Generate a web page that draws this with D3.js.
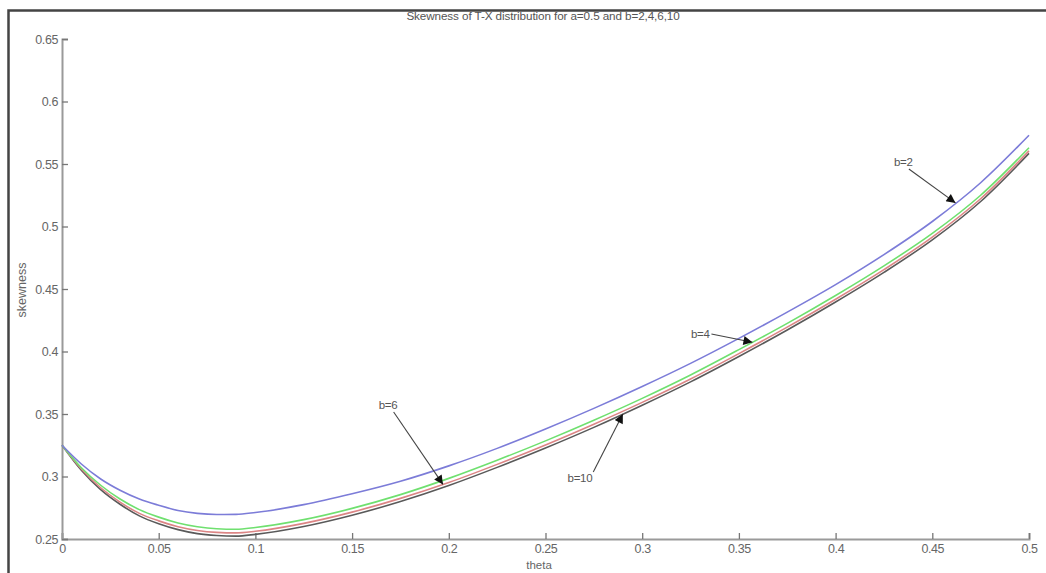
<!DOCTYPE html>
<html>
<head>
<meta charset="utf-8">
<title>Skewness of T-X distribution</title>
<script src="https://cdn.jsdelivr.net/npm/d3@7/dist/d3.min.js"></script>
<style>
    html, body { margin: 0; background: #fff; overflow: hidden; }
    svg { display: block; }
    text { font-family: "Liberation Sans", Arial, sans-serif; }
</style>
</head>
<body>
<script>
    // theta grid
    var theta = [0, 0.01, 0.02, 0.03, 0.04, 0.05, 0.06, 0.07, 0.08, 0.09, 0.1,
                 0.125, 0.15, 0.175, 0.2, 0.225, 0.25, 0.275, 0.3, 0.325, 0.35,
                 0.375, 0.4, 0.425, 0.45, 0.475, 0.5];

    // skewness
    var b2  = [0.325, 0.310, 0.298, 0.289, 0.282, 0.277, 0.2728, 0.2705, 0.2696, 0.2697, 0.2712,
               0.2775, 0.2862, 0.2962, 0.3085, 0.3225, 0.3380, 0.3545, 0.3720, 0.3905, 0.4105,
               0.4315, 0.4535, 0.4775, 0.5040, 0.5350, 0.5730];
    var b4  = [0.325, 0.307, 0.293, 0.282, 0.2735, 0.2675, 0.2628, 0.2598, 0.2582, 0.2578, 0.2592,
               0.2655, 0.2745, 0.2855, 0.2985, 0.3130, 0.3285, 0.3450, 0.3625, 0.3812, 0.4015,
               0.4225, 0.4448, 0.4685, 0.4945, 0.5250, 0.5630];
    var b6  = [0.325, 0.306, 0.291, 0.2795, 0.2705, 0.2645, 0.2598, 0.2568, 0.2553, 0.2549, 0.2562,
               0.2625, 0.2715, 0.2825, 0.2952, 0.3097, 0.3252, 0.3418, 0.3593, 0.3780, 0.3983,
               0.4195, 0.4418, 0.4655, 0.4915, 0.5222, 0.5605];
    var b10 = [0.325, 0.305, 0.2895, 0.2778, 0.2685, 0.2622, 0.2575, 0.2543, 0.2528, 0.2523, 0.2537,
               0.2600, 0.2690, 0.2800, 0.2928, 0.3073, 0.3228, 0.3393, 0.3570, 0.3757, 0.3960,
               0.4172, 0.4396, 0.4633, 0.4893, 0.5200, 0.5585];

    var seriesNames  = ["b=2", "b=4", "b=6", "b=10"];
    var seriesValues = [b2, b4, b6, b10];
    var colors = ["#7c7cd8", "#6fe06f", "#dc8585", "#5a5a5a"];

    var xTicks = [0, 0.05, 0.1, 0.15, 0.2, 0.25, 0.3, 0.35, 0.4, 0.45, 0.5];
    var yTicks = [0.25, 0.3, 0.35, 0.4, 0.45, 0.5, 0.55, 0.6, 0.65];

    // annotation: label, label pos (theta, skew), arrow tip series index & theta
    var notes = [
        { label: "b=2",  tx: 0.435,  ty: 0.5516, at: 0.462, s: 0 },
        { label: "b=4",  tx: 0.330,  ty: 0.4140, at: 0.357, s: 1 },
        { label: "b=6",  tx: 0.1686, ty: 0.3572, at: 0.197, s: 2 },
        { label: "b=10", tx: 0.2678, ty: 0.2988, at: 0.290, s: 3 }
    ];

    var W = 1046, H = 573;
    var margin = { top: 39, right: 17, bottom: 33, left: 62 };

    var svg = d3.select("body")
                .append("svg")
                .attr("width", W)
                .attr("height", H);

    // outer frame (top + left edge of screenshot)
    svg.append("path")
        .attr("d", "M8.5," + H + "V10.5H" + W)
        .attr("fill", "none")
        .attr("stroke", "#444")
        .attr("stroke-width", 2.5);

    var x = d3.scaleLinear()
        .domain([0, 0.5])
        .range([margin.left, W - margin.right]);

    var y = d3.scaleLinear()
        .domain([0.25, 0.65])
        .range([H - margin.bottom - 1, margin.top]);

    // x axis, ticks pointing inward
    var gx = svg.append("g")
        .attr("transform", "translate(0," + y(0.25) + ")")
        .call(d3.axisBottom(x).tickValues(xTicks).tickSize(-6).tickPadding(5)
                .tickFormat(d3.format("")));
    // y axis
    var gy = svg.append("g")
        .attr("transform", "translate(" + x(0) + ",0)")
        .call(d3.axisLeft(y).tickValues(yTicks).tickSize(-6).tickPadding(4)
                .tickFormat(d3.format("")));

    [gx, gy].forEach(function(g) {
        g.select(".domain").attr("stroke", "#9a9a9a").attr("stroke-width", 2);
        g.selectAll(".tick line").attr("stroke", "#777").attr("stroke-width", 1.3);
        g.selectAll(".tick text").attr("fill", "#666").style("font-size", "12.5px")
            .style("letter-spacing", "-0.4px");
    });
    gy.selectAll(".tick text").attr("dy", "0.35em");

    // lines
    var line = d3.line()
        .x(function(d, i) { return x(theta[i]); })
        .y(function(d) { return y(d); })
        .curve(d3.curveMonotoneX);

    seriesValues.slice().reverse().forEach(function(vals, k) {
        var i = seriesValues.length - 1 - k;
        svg.append("path")
            .datum(vals)
            .attr("fill", "none")
            .attr("stroke", colors[i])
            .attr("stroke-width", 1.6)
            .attr("d", line);
    });

    // titles
    svg.append("text")
        .attr("x", 543)
        .attr("y", 20)
        .attr("text-anchor", "middle")
        .attr("fill", "#555")
        .style("font-size", "11.7px")
        .style("letter-spacing", "-0.1px")
        .text("Skewness of T-X distribution for a=0.5 and b=2,4,6,10");

    svg.append("text")
        .attr("x", 539)
        .attr("y", 569)
        .attr("text-anchor", "middle")
        .attr("fill", "#666")
        .style("font-size", "11.5px")
        .text("theta");

    svg.append("text")
        .attr("transform", "translate(26," + 290 + ") rotate(-90)")
        .attr("text-anchor", "middle")
        .attr("fill", "#666")
        .style("font-size", "12.5px")
        .text("skewness");

    // arrows
    svg.append("defs").append("marker")
        .attr("id", "head")
        .attr("viewBox", "0 0 10 10")
        .attr("refX", 10).attr("refY", 5)
        .attr("markerWidth", 13).attr("markerHeight", 9)
        .attr("markerUnits", "userSpaceOnUse")
        .attr("orient", "auto")
        .append("path")
        .attr("d", "M0,0L10,5L0,10z")
        .attr("fill", "#111");

    var interp = function(vals, t) {
        return d3.scaleLinear().domain(theta).range(vals)(t);
    };

    notes.forEach(function(n) {
        var lx = x(n.tx), ly = y(n.ty);
        var ex = x(n.at), ey = y(interp(seriesValues[n.s], n.at));
        var t = svg.append("text")
            .attr("x", lx)
            .attr("y", ly)
            .attr("text-anchor", "middle")
            .attr("dy", "0.35em")
            .attr("fill", "#555")
            .style("font-size", "11.5px")
            .style("letter-spacing", "-0.3px")
            .text(n.label);
        var bb = t.node().getBBox();
        // start arrow at the edge of the label facing the tip
        var sx, sy;
        if (ey > ly + bb.height) {
            sx = lx + (bb.width / 2) * (ex > lx ? 0.6 : -0.6);
            sy = bb.y + bb.height + 1;
        } else if (ey < ly - bb.height) {
            sx = bb.x + bb.width + 1;
            sy = bb.y;
        } else {
            sx = bb.x + bb.width + 1;
            sy = ly;
        }
        svg.append("line")
            .attr("x1", sx).attr("y1", sy)
            .attr("x2", ex).attr("y2", ey)
            .attr("stroke", "#444")
            .attr("stroke-width", 1.1)
            .attr("marker-end", "url(#head)");
    });
</script>
</body>
</html>
